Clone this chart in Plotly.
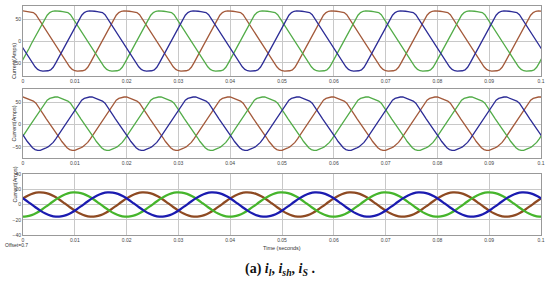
import numpy as np
import plotly.graph_objects as go

# ---------------- data (one fundamental cycle per waveform) ----------------
PERIOD = 0.02            # 50 Hz
T_END = 0.1
X_TICKS = [0, 0.01, 0.02, 0.03, 0.04, 0.05, 0.06, 0.07, 0.08, 0.09, 0.1]
X_TICK_TEXT = ["0", "0.01", "0.02", "0.03", "0.04", "0.05", "0.06", "0.07", "0.08", "0.09", "0.1"]

# load current i_l, phase a, sampled every 0.5 ms over one cycle (A)
STEP_TRAP = 0.0005
LOAD_A = [69, 68, 67, 66.5, 65, 60, 51, 42, 32, 23,
          14, 5, -4, -14, -23, -32, -42, -51, -59, -65,
          -68, -69, -69, -68, -66, -60, -50, -39, -28, -17,
          -5, 6, 17, 28, 39, 50, 59, 65, 68, 69]

# shunt compensator current i_sh, phase a, every 0.5 ms (A)
SHUNT_A = [62, 60, 58, 56, 53, 48, 40, 31, 22, 13,
           5, -3, -11, -20, -29, -38, -46, -52, -56, -58,
           -58, -56, -53, -50, -46, -40, -32, -23, -14, -5,
           4, 13, 22, 31, 40, 48, 55, 59, 61, 62]

# source current i_S, phase a, every 1 ms (A)
STEP_SRC = 0.001
SOURCE_A = [8, 11.9, 14.6, 15.9, 15.6, 13.9, 10.7, 6.5, 1.7, -3.3,
            -8, -11.9, -14.6, -15.9, -15.6, -13.9, -10.7, -6.5, -1.7, 3.3]

PHASES = ["a", "b", "c"]
PHASE_DELAY = {"a": 0.0, "b": PERIOD / 3, "c": -PERIOD / 3}   # time shift of each phase
COLORS = {"a": "#a3593a", "b": "#52ac48", "c": "#2c2c96"}
COLORS_SRC = {"a": "#8e4a22", "b": "#46b52c", "c": "#1b1bb0"}

# ---------------- layout geometry ----------------
W, H = 550, 281
X_DOM = [23 / W, 541 / W]
PANELS = [
    dict(top=6, bottom=76, rng=[-80, 80], ticks=[-50, 0, 50]),
    dict(top=89, bottom=158, rng=[-75, 80], ticks=[-50, 0, 50]),
    dict(top=174, bottom=235, rng=[-40, 40], ticks=[-40, -20, 0, 20, 40]),
]

SANS = "Arial, Liberation Sans"


def periodic_trace(cycle, step, phase):
    cyc = np.asarray(cycle, dtype=float)
    t0 = np.arange(len(cyc)) * step
    xs, ys = [], []
    for k in range(-1, int(T_END / PERIOD) + 2):
        xs.append(t0 + k * PERIOD + PHASE_DELAY[phase])
        ys.append(cyc)
    x = np.concatenate(xs)
    y = np.concatenate(ys)
    order = np.argsort(x)
    return x[order], y[order]


fig = go.Figure()

series = [(LOAD_A, STEP_TRAP, COLORS, 1.3, "linear"),
          (SHUNT_A, STEP_TRAP, COLORS, 1.3, "linear"),
          (SOURCE_A, STEP_SRC, COLORS_SRC, 2.2, "spline")]

for i, (cyc, step, cols, lw, shape) in enumerate(series):
    suffix = "" if i == 0 else str(i + 1)
    for ph in PHASES:
        x, y = periodic_trace(cyc, step, ph)
        fig.add_trace(go.Scatter(x=x, y=y, mode="lines",
                                 line=dict(color=cols[ph], width=lw, shape=shape),
                                 xaxis="x" + suffix, yaxis="y" + suffix,
                                 showlegend=False, hoverinfo="skip"))

axis_common = dict(showline=True, mirror=True, linecolor="#999999", linewidth=1,
                   showgrid=True, gridcolor="#c8c8c8", gridwidth=1, zeroline=False,
                   ticks="", automargin=False,
                   tickfont=dict(size=5, color="#444", family=SANS))

layout = dict(width=W, height=H, margin=dict(l=0, r=0, t=0, b=0, autoexpand=False),
              paper_bgcolor="white", plot_bgcolor="white", showlegend=False)

for i, p in enumerate(PANELS):
    suffix = "" if i == 0 else str(i + 1)
    ydom = [1 - p["bottom"] / H, 1 - p["top"] / H]
    layout["xaxis" + suffix] = dict(axis_common, domain=X_DOM, range=[0, T_END],
                                    tickvals=X_TICKS, ticktext=X_TICK_TEXT,
                                    anchor="y" + suffix)
    layout["yaxis" + suffix] = dict(axis_common, domain=ydom, range=p["rng"],
                                    tickvals=p["ticks"], anchor="x" + suffix)

fig.update_layout(**layout)

annotations = []
for p in PANELS:
    yc = 1 - (p["top"] + p["bottom"]) / 2 / H
    annotations.append(dict(text="Current(Amps)", x=9 / W, y=yc, xref="paper", yref="paper",
                            textangle=-90, showarrow=False,
                            font=dict(size=5.5, color="#333", family=SANS)))
annotations.append(dict(text="Time (seconds)", x=282 / W, y=1 - 248 / H, xref="paper", yref="paper",
                        yanchor="middle", showarrow=False,
                        font=dict(size=5.5, color="#333", family=SANS)))
annotations.append(dict(text="Offset=0.7", x=3 / W, y=1 - 250 / H, xref="paper", yref="paper",
                        xanchor="left", showarrow=False,
                        font=dict(size=5, color="#333", family=SANS)))
annotations.append(dict(text="<b>(a)</b> <b><i>i<sub>l</sub></i>, <i>i<sub>sh</sub></i>, <i>i<sub>S</sub></i> .</b>",
                        x=280 / W, y=1 - 280 / H, xref="paper", yref="paper", yanchor="bottom",
                        showarrow=False, font=dict(size=14, color="#111", family="Liberation Serif")))
fig.update_layout(annotations=annotations)

fig.write_html("out.html", config={"displayModeBar": False},
               post_script="document.body.style.margin='0';document.body.style.overflow='hidden';")
